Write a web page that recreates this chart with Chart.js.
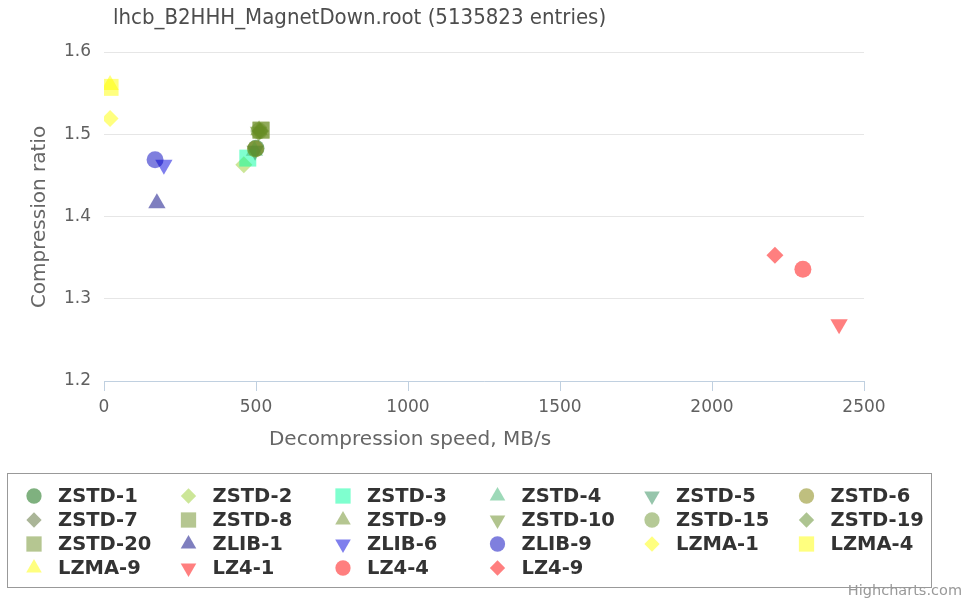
<!DOCTYPE html>
<html>
<head>
<meta charset="utf-8">
<title>lhcb_B2HHH_MagnetDown.root</title>
<script src="https://cdn.jsdelivr.net/npm/chart.js@4/dist/chart.umd.min.js"></script>
<style>
  html, body { margin: 0; padding: 0; background: #fff; }
  #wrap { width: 971px; height: 601px; position: relative; }
</style>
</head>
<body>
<div id="wrap"><canvas id="chart" width="971" height="601"></canvas></div>
<script>
// Series data
const seriesNames = [
  'ZSTD-1', 'ZSTD-2', 'ZSTD-3', 'ZSTD-4', 'ZSTD-5', 'ZSTD-6',
  'ZSTD-7', 'ZSTD-8', 'ZSTD-9', 'ZSTD-10', 'ZSTD-15', 'ZSTD-19',
  'ZSTD-20', 'ZLIB-1', 'ZLIB-6', 'ZLIB-9', 'LZMA-1', 'LZMA-4',
  'LZMA-9', 'LZ4-1', 'LZ4-4', 'LZ4-9'
];
// decompression speed, MB/s
const speeds = [
  500, 460, 473, 495, 497, 498,
  512, 515, 510, 508, 510, 515,
  518, 174, 197, 168, 20, 20,
  20, 2418, 2299, 2207
];
// compression ratio
const ratios = [
  1.483, 1.463, 1.471, 1.480, 1.480, 1.482,
  1.504, 1.505, 1.505, 1.503, 1.504, 1.504,
  1.505, 1.416, 1.463, 1.469, 1.519, 1.557,
  1.560, 1.269, 1.336, 1.353
];
const xTicks = [0, 500, 1000, 1500, 2000, 2500];
const yTicks = [1.2, 1.3, 1.4, 1.5, 1.6];

const chartTitle = 'lhcb_B2HHH_MagnetDown.root (5135823 entries)';
const xTitle = 'Decompression speed, MB/s';
const yTitle = 'Compression ratio';

// marker shape and colour per series
const markerStyles = [
  'circle', 'diamond', 'square', 'triangle', 'triangleDown', 'circle',
  'diamond', 'square', 'triangle', 'triangleDown', 'circle', 'diamond',
  'square', 'triangle', 'triangleDown', 'circle', 'diamond', 'square',
  'triangle', 'triangleDown', 'circle', 'diamond'
];
const seriesColors = [
  'rgba(0,100,0,0.5)', 'rgba(154,205,50,0.5)', 'rgba(0,255,160,0.5)',
  'rgba(60,179,113,0.5)', 'rgba(46,139,87,0.5)', 'rgba(128,128,0,0.5)',
  'rgba(85,107,47,0.5)', 'rgba(107,142,35,0.5)', 'rgba(107,142,35,0.5)',
  'rgba(100,138,30,0.5)', 'rgba(107,147,45,0.5)', 'rgba(92,138,35,0.5)',
  'rgba(107,142,35,0.5)', 'rgba(0,0,128,0.5)', 'rgba(0,0,220,0.5)',
  'rgba(0,0,190,0.5)', 'rgba(255,255,0,0.5)', 'rgba(255,255,0,0.5)',
  'rgba(255,255,0,0.5)', 'rgba(255,0,0,0.5)', 'rgba(255,0,0,0.5)',
  'rgba(255,0,0,0.5)'
];

function shapeOf(style) {
  if (style === 'diamond') return 'rectRot';
  if (style === 'square') return 'rect';
  if (style === 'triangleDown') return 'triangle';
  return style;
}

function radiusOf(style) {
  if (style === 'square') return 12;
  if (style === 'triangle' || style === 'triangleDown') return 10;
  return 8.5;
}

const datasets = seriesNames.map((name, i) => {
  const style = markerStyles[i];
  return {
    label: name,
    data: [{ x: speeds[i], y: ratios[i] }],
    pointStyle: shapeOf(style),
    pointRotation: style === 'triangleDown' ? 180 : 0,
    pointRadius: radiusOf(style),
    pointBackgroundColor: seriesColors[i],
    backgroundColor: seriesColors[i],
    pointBorderWidth: 0,
    borderWidth: 0,
    showLine: false,
    order: -i
  };
});

// title, axis titles, boxed legend and credits
const decorPlugin = {
  id: 'decor',
  afterDraw(chart) {
    const ctx = chart.ctx;
    ctx.save();

    ctx.fillStyle = '#4d4d4d';
    ctx.font = '22px "DejaVu Sans Condensed", "DejaVu Sans", sans-serif';
    ctx.textAlign = 'left';
    ctx.textBaseline = 'middle';
    ctx.fillText(chartTitle, 113, 18);

    ctx.fillStyle = '#666';
    ctx.font = '20px "DejaVu Sans", sans-serif';
    ctx.textAlign = 'center';
    ctx.fillText(xTitle, 410, 440);
    ctx.save();
    ctx.translate(40, 217);
    ctx.rotate(-Math.PI / 2);
    ctx.fillText(yTitle, 0, 0);
    ctx.restore();

    // legend box
    ctx.strokeStyle = '#999';
    ctx.lineWidth = 1;
    ctx.strokeRect(7.5, 473.5, 924, 114);

    ctx.font = 'bold 19.5px "DejaVu Sans", sans-serif';
    ctx.textAlign = 'left';
    chart.data.datasets.forEach((ds, i) => {
      const col = i % 6;
      const row = Math.floor(i / 6);
      const x = 34 + col * 154.5;
      const y = 496 + row * 24;
      ctx.fillStyle = ds.pointBackgroundColor;
      Chart.helpers.drawPoint(ctx, {
        pointStyle: ds.pointStyle,
        rotation: ds.pointRotation,
        radius: ds.pointRadius * 0.9,
        borderWidth: 0
      }, x, y);
      ctx.fillStyle = '#333';
      ctx.fillText(ds.label, x + 24, y + 1);
    });

    ctx.fillStyle = '#999';
    ctx.font = '14.5px "DejaVu Sans", sans-serif';
    ctx.textAlign = 'right';
    ctx.fillText('Highcharts.com', 962, 591);
    ctx.restore();
  }
};

new Chart(document.getElementById('chart'), {
  type: 'scatter',
  data: { datasets: datasets },
  options: {
    responsive: false,
    animation: false,
    devicePixelRatio: 1,
    events: [],
    layout: { padding: { top: 52, left: 0, right: 107, bottom: 180 } },
    plugins: {
      legend: { display: false },
      title: { display: false },
      tooltip: { enabled: false }
    },
    scales: {
      x: {
        type: 'linear',
        min: xTicks[0],
        max: xTicks[xTicks.length - 1],
        afterFit: s => { s.height = 40; },
        afterBuildTicks: s => { s.ticks = xTicks.map(v => ({ value: v })); },
        ticks: {
          color: '#606060',
          font: { family: 'DejaVu Sans', size: 17 },
          padding: 6,
          callback: v => String(v)
        },
        grid: {
          drawOnChartArea: false,
          drawTicks: true,
          tickLength: 10,
          color: '#C0D0E0'
        },
        border: { color: '#C0D0E0', width: 1 }
      },
      y: {
        type: 'linear',
        min: yTicks[0],
        max: yTicks[yTicks.length - 1],
        afterFit: s => { s.width = 104; },
        afterBuildTicks: s => { s.ticks = yTicks.map(v => ({ value: v })); },
        ticks: {
          color: '#606060',
          font: { family: 'DejaVu Sans', size: 17 },
          padding: 13,
          callback: v => v.toFixed(1)
        },
        grid: { color: '#E6E6E6', drawTicks: false },
        border: { display: false }
      }
    }
  },
  plugins: [decorPlugin]
});
</script>
</body>
</html>
